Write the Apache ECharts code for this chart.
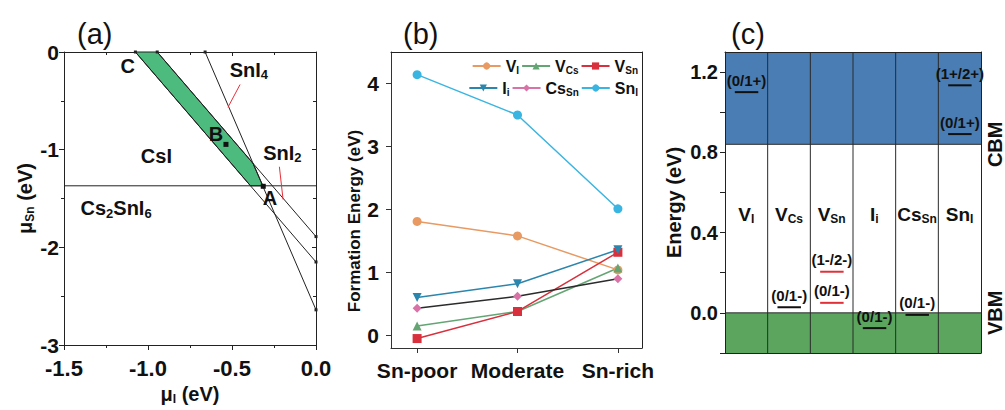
<!DOCTYPE html>
<html><head><meta charset="utf-8">
<script src="https://cdn.jsdelivr.net/npm/echarts@6/dist/echarts.min.js"></script>
<style>html,body{margin:0;padding:0;background:#fff}#c{width:1005px;height:410px}</style>
</head><body><div id="c"></div>
<script>
// ---------- Panel (a): chemical-potential stability diagram ----------
const lineCsILeft   = [[-1.075, 0], [0, -2.15]];
const lineCsIRight  = [[-0.945, 0], [0, -1.89]];
const lineSnI4      = [[-0.66, 0], [0, -2.64]];
const lineCs2SnI6   = [[-1.5, -1.37], [0, -1.37]];
const stableRegion  = [[-1.075, 0], [-0.945, 0], [-0.375, -1.14], [-0.316, -1.37], [-0.39, -1.37]];
const specialPoints = [[-0.314, -1.375], [-0.536, -0.946]];
const regionTexts   = ['{b|C}', '{b|B}', '{b|A}', '{b|SnI}{s|4}', '{b|SnI}{s|2}', '{b|CsI}', '{b|Cs}{s|2}{b|SnI}{s|6}'];
const regionTextXY  = [[-1.121, -0.14], [-0.595, -0.84], [-0.274, -1.49], [-0.40, -0.18], [-0.20, -1.03], [-0.95, -1.065], [-1.19, -1.60]];
const arrowFrom     = [[-0.452, -0.333], [-0.218, -1.175]];
const arrowTo       = [[-0.524, -0.566], [-0.196, -1.51]];

// ---------- Panel (b): formation energies ----------
const categories = ['Sn-poor', 'Moderate', 'Sn-rich'];
const defectKeys = ['V_I', 'V_Cs', 'V_Sn', 'I_i', 'Cs_Sn', 'Sn_I'];
const E_VI   = [1.81, 1.58, 1.04];
const E_VCs  = [0.15, 0.38, 1.07];
const E_VSn  = [-0.05, 0.38, 1.32];
const E_Ii   = [0.60, 0.82, 1.36];
const E_CsSn = [0.43, 0.62, 0.90];
const E_SnI  = [4.14, 3.50, 2.01];

// ---------- Panel (c): transition levels ----------
const levelColumn = [0, 1, 2, 2, 3, 4, 5, 5];
const levelEnergy = [1.10, 0.028, 0.205, 0.05, -0.076, -0.01, 1.134, 0.891];
const levelText   = ['(0/1+)', '(0/1-)', '(1-/2-)', '(0/1-)', '(0/1-)', '(0/1-)', '(1+/2+)', '(0/1+)'];
const levelRed    = [false, false, true, true, false, false, false, false];
const bandCBM = 0.84;
const bandVBM = 0.0;
const edgeTicks = ['VBM', 'CBM'];

const FF = '"Liberation Sans", Arial, sans-serif';
const sub = n => { const p = n.split('_'); return '{b|' + p[0] + '}{s|' + p[1] + '}'; };
function richSet(big, small, pad) {
  return {
    b: { fontFamily: FF, fontWeight: 'bold', fontSize: big, color: '#111' },
    s: { fontFamily: FF, fontWeight: 'bold', fontSize: small, color: '#111', padding: [pad, 0, 0, 0] }
  };
}
const xy = arr => arr.map((v, i) => [i, v]);

const chart = echarts.init(document.getElementById('c'), null, { renderer: 'svg' });

const boxAxis = (grid, pos, extra) => Object.assign({
  gridIndex: grid, type: 'value', position: pos,
  axisLine: { show: true, onZero: false, lineStyle: { color: '#222', width: 1 } },
  axisTick: { show: false }, axisLabel: { show: false }, splitLine: { show: false }
}, extra || {});

const legendColors = ['#e89a62', '#64a574', '#d8303c', '#2a86ad', '#d972a6', '#3ab5e2'];
const legendSymbols = ['circle', 'triangle', 'rect', 'triangle', 'diamond', 'circle'];
const seriesB = [E_VI, E_VCs, E_VSn, E_Ii, E_CsSn, E_SnI].map((arr, i) => ({
  type: 'line', name: defectKeys[i], xAxisIndex: 2, yAxisIndex: 2,
  data: xy(arr), symbol: legendSymbols[i], symbolSize: 9, symbolRotate: i === 3 ? 180 : 0,
  lineStyle: { width: 1.5, color: i === 4 ? '#2b2b2b' : legendColors[i] },
  itemStyle: { color: legendColors[i] }, z: 3
}));

const titleStyle = { fontFamily: FF, fontWeight: 'normal', fontSize: 29, color: '#111' };
const tick = { color: '#222' };

const option = {
  animation: false,
  title: [
    { text: '(a)', left: 72, top: 14, textStyle: titleStyle },
    { text: '(b)', left: 398, top: 14, textStyle: titleStyle },
    { text: '(c)', left: 726, top: 14, textStyle: titleStyle }
  ],
  legend: [
    { data: defectKeys.slice(0, 3), right: 367, top: 58, padding: 0, itemGap: 2, itemWidth: 28, itemHeight: 9,
      formatter: n => sub(n), textStyle: { rich: richSet(16, 10, 8) } },
    { data: defectKeys.slice(3).map(n => n === 'Cs_Sn' ? { name: n, lineStyle: { color: legendColors[4] } } : n),
      right: 367, top: 80, padding: 0, itemGap: 2, itemWidth: 28, itemHeight: 9,
      formatter: n => sub(n), textStyle: { rich: richSet(16, 10, 8) } }
  ],
  grid: [
    { left: 64, top: 52, width: 252, height: 297 },
    { left: 391, top: 52, width: 251, height: 296 },
    { left: 725, top: 52, width: 257, height: 301 }
  ],
  xAxis: [
    { gridIndex: 0, type: 'value', min: -1.5, max: 0, interval: 0.5,
      axisLine: { lineStyle: tick, onZero: false },
      axisTick: { show: true, length: 5, lineStyle: tick },
      minorTick: { show: true, splitNumber: 2, length: 3, lineStyle: tick },
      axisLabel: { fontFamily: FF, fontWeight: 'bold', fontSize: 22, color: '#111', margin: 12, formatter: v => v.toFixed(1) },
      splitLine: { show: false }, minorSplitLine: { show: false },
      name: '{b|μ}{s|I}{b| (eV)}', nameLocation: 'middle', nameGap: 38, nameTextStyle: { rich: richSet(20, 12, 10) } },
    boxAxis(0, 'top', { min: -1.5, max: 0, interval: 0.5,
      axisTick: { show: true, inside: true, length: 4, lineStyle: tick },
      minorTick: { show: true, splitNumber: 2, length: 3, lineStyle: tick } }),
    { gridIndex: 1, type: 'value', min: -0.26, max: 2.24,
      axisLine: { lineStyle: { color: '#333' }, onZero: false },
      axisTick: { show: true, length: 5, customValues: [0, 1, 2], lineStyle: { color: '#333' } },
      axisLabel: { customValues: [0, 1, 2], formatter: v => categories[Math.round(v)], fontFamily: FF, fontWeight: 'bold', fontSize: 21, color: '#111', margin: 12 },
      splitLine: { show: false } },
    boxAxis(1, 'top', { min: -0.26, max: 2.24 }),
    { gridIndex: 2, type: 'value', min: 0, max: 6, z: 5,
      axisLine: { lineStyle: tick, onZero: false },
      axisTick: { show: false }, axisLabel: { show: false }, splitLine: { show: false } },
    boxAxis(2, 'top', { min: 0, max: 6, z: 5 })
  ],
  yAxis: [
    { gridIndex: 0, type: 'value', min: -3, max: 0, interval: 1,
      axisLine: { lineStyle: tick, onZero: false },
      axisTick: { show: true, length: 5, lineStyle: tick },
      minorTick: { show: true, splitNumber: 2, length: 3, lineStyle: tick },
      axisLabel: { fontFamily: FF, fontWeight: 'bold', fontSize: 21, color: '#111', margin: 5 },
      splitLine: { show: false }, minorSplitLine: { show: false },
      name: '{b|μ}{s|Sn}{b| (eV)}', nameLocation: 'middle', nameGap: 28, nameRotate: 90, nameTextStyle: { rich: richSet(20, 12, 10) } },
    boxAxis(0, 'right', { min: -3, max: 0, interval: 1,
      axisTick: { show: true, inside: true, length: 4, lineStyle: tick },
      minorTick: { show: true, splitNumber: 2, length: 3, lineStyle: tick } }),
    { gridIndex: 1, type: 'value', min: -0.2, max: 4.5,
      axisLine: { lineStyle: { color: '#333' }, onZero: false },
      axisTick: { show: true, length: 5, customValues: [0, 1, 2, 3, 4], lineStyle: { color: '#333' } },
      axisLabel: { customValues: [0, 1, 2, 3, 4], fontFamily: FF, fontWeight: 'bold', fontSize: 21, color: '#111', margin: 12 },
      splitLine: { show: false },
      name: '{t|Formation Energy (eV)}{sp|}', nameLocation: 'middle', nameGap: 26, nameRotate: 90,
      nameTextStyle: { rich: {
        t: { fontFamily: FF, fontWeight: 'bold', fontSize: 17, color: '#111' },
        sp: { width: 42, fontSize: 17 } } } },
    boxAxis(1, 'right', { min: -0.2, max: 4.5 }),
    { gridIndex: 2, type: 'value', min: -0.2, max: 1.3, z: 5,
      axisLine: { lineStyle: tick, onZero: false },
      axisTick: { show: true, length: 5, customValues: [-0.2, 0, 0.2, 0.4, 0.6, 0.8, 1.0, 1.2], lineStyle: tick },
      axisLabel: { customValues: [0, 0.4, 0.8, 1.2], formatter: v => v.toFixed(1), fontFamily: FF, fontWeight: 'bold', fontSize: 20, color: '#111', margin: 7 },
      splitLine: { show: false },
      name: 'Energy (eV)', nameLocation: 'middle', nameGap: 41, nameRotate: 90,
      nameTextStyle: { fontFamily: FF, fontWeight: 'bold', fontSize: 20, color: '#111' } },
    boxAxis(2, 'right', { min: -0.2, max: 1.3, z: 5,
      axisLabel: { show: true, customValues: [bandVBM, bandCBM], formatter: v => (v > 0.4 ? edgeTicks[1] : edgeTicks[0]),
        rotate: 90, margin: 4, fontFamily: FF, fontWeight: 'bold', fontSize: 20, color: '#111' } })
  ],
  series: [
    // (a) stable region polygon
    { type: 'custom', xAxisIndex: 0, yAxisIndex: 0, data: [0], z: 1,
      renderItem: (params, api) => ({
        type: 'polygon',
        shape: { points: stableRegion.map(p => api.coord(p)) },
        style: { fill: '#4dbb7e', stroke: '#222', lineWidth: 1 }
      }) },
    ...[lineCsILeft, lineCsIRight, lineSnI4, lineCs2SnI6].map((d, i) => ({
      type: 'line', xAxisIndex: 0, yAxisIndex: 0, data: d, z: 2,
      symbol: i === 3 ? 'none' : 'rect', symbolSize: 3, itemStyle: { color: '#222' },
      lineStyle: { color: '#222', width: 1 },
      markLine: i === 3 ? {
        silent: true, symbol: ['none', 'arrow'], symbolSize: [0, 7], label: { show: false },
        lineStyle: { color: '#e8303a', width: 1, type: 'solid' },
        data: arrowFrom.map((f, k) => [{ coord: f }, { coord: arrowTo[k] }])
      } : undefined
    })),
    { type: 'scatter', xAxisIndex: 0, yAxisIndex: 0, data: specialPoints, symbol: 'rect', symbolSize: 5,
      itemStyle: { color: '#111', opacity: 1 }, z: 3 },
    { type: 'scatter', xAxisIndex: 0, yAxisIndex: 0, symbolSize: 0, z: 4, itemStyle: { opacity: 1 },
      data: regionTextXY.map((p, i) => ({ value: p, label: { formatter: regionTexts[i] } })),
      label: { show: true, position: 'inside', color: '#111', opacity: 1, rich: richSet(20, 13, 10) } },
    // (b)
    ...seriesB,
    // (c) bands
    { type: 'custom', xAxisIndex: 4, yAxisIndex: 4, data: [[bandCBM, 1.3, '#4a7db3'], [-0.2, bandVBM, '#5ba55f']], z: 1,
      renderItem: (params, api) => {
        const p1 = api.coord([0, api.value(1)]);
        const p2 = api.coord([defectKeys.length, api.value(0)]);
        return { type: 'rect', shape: { x: p1[0], y: p1[1], width: p2[0] - p1[0], height: p2[1] - p1[1] },
          style: { fill: api.value(2) } };
      } },
    // (c) column dividers
    { type: 'custom', xAxisIndex: 4, yAxisIndex: 4, data: [1, 2, 3, 4, 5], z: 2,
      renderItem: (params, api) => {
        const a = api.coord([api.value(0), -0.2]);
        const b = api.coord([api.value(0), 1.3]);
        return { type: 'line', shape: { x1: a[0], y1: a[1], x2: b[0], y2: b[1] }, style: { stroke: '#2a2a2a', lineWidth: 1 } };
      } },
    // (c) band edge lines
    { type: 'custom', xAxisIndex: 4, yAxisIndex: 4, data: [bandCBM, bandVBM], z: 2,
      renderItem: (params, api) => {
        const a = api.coord([0, api.value(0)]);
        const b = api.coord([defectKeys.length, api.value(0)]);
        return { type: 'line', shape: { x1: a[0], y1: a[1], x2: b[0], y2: b[1] }, style: { stroke: '#2a2a2a', lineWidth: 1 } };
      } },
    // (c) transition levels
    { type: 'custom', xAxisIndex: 4, yAxisIndex: 4, z: 4,
      data: levelColumn.map((c, i) => [c, levelEnergy[i], i]),
      renderItem: (params, api) => {
        const i = api.value(2);
        const a = api.coord([api.value(0) + 0.23, api.value(1)]);
        const b = api.coord([api.value(0) + 0.78, api.value(1)]);
        const mid = (a[0] + b[0]) / 2;
        return { type: 'group', children: [
          { type: 'line', shape: { x1: a[0], y1: a[1], x2: b[0], y2: b[1] },
            style: { stroke: levelRed[i] ? '#e0303a' : '#111', lineWidth: 2 } },
          { type: 'text', x: mid, y: a[1] - 12,
            style: { text: levelText[i], fill: '#111', font: 'bold 15px ' + FF, align: 'center', verticalAlign: 'middle' } }
        ] };
      } },
    // (c) defect names
    { type: 'scatter', xAxisIndex: 4, yAxisIndex: 4, symbolSize: 0, z: 4, itemStyle: { opacity: 1 },
      data: defectKeys.map((k, i) => ({ value: [i + 0.5, 0.49], label: { formatter: sub(k) } })),
      label: { show: true, position: 'inside', color: '#111', opacity: 1, rich: richSet(19, 12, 9) } }
  ]
};
chart.setOption(option);
</script>
</body></html>
